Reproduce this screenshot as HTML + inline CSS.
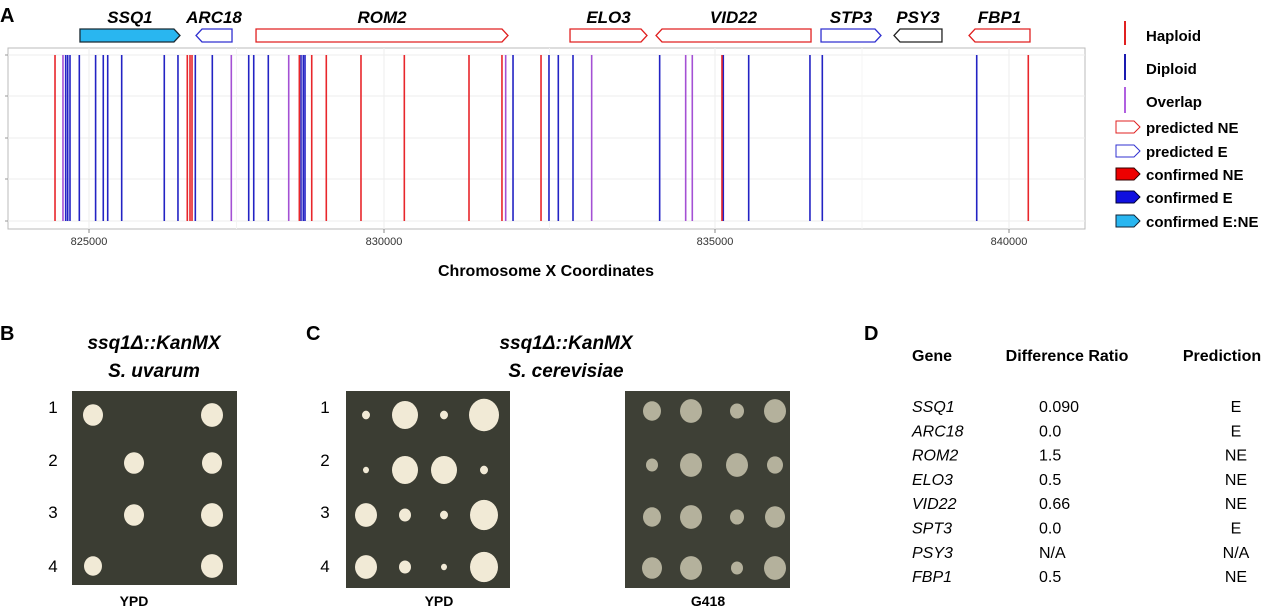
<!DOCTYPE html>
<html><head><meta charset="utf-8"><style>
body{margin:0;background:#fff;width:1280px;height:609px;overflow:hidden;font-family:"Liberation Sans",sans-serif}
svg{display:block}
text{font-family:"Liberation Sans",sans-serif}
</style></head><body>
<svg id="fig" width="1280" height="609" viewBox="0 0 1280 609">
<text x="0" y="22" font-size="20" font-weight="bold">A</text>
<rect x="8" y="48" width="1077" height="181" fill="#fff" stroke="#bbb" stroke-width="1"/>
<g id="grid"></g>
<g id="marks"></g>
<g id="genes"></g>
<g id="xaxis"></g>
<text x="546" y="276" font-size="16" font-weight="bold" text-anchor="middle">Chromosome X Coordinates</text>
<g id="legend">
 <line x1="1125" y1="21" x2="1125" y2="45" stroke="#e02020" stroke-width="2"/>
 <text x="1146" y="41" font-size="15" font-weight="bold">Haploid</text>
 <line x1="1125" y1="54" x2="1125" y2="80" stroke="#1a1ab0" stroke-width="2"/>
 <text x="1146" y="74" font-size="15" font-weight="bold">Diploid</text>
 <line x1="1125" y1="87" x2="1125" y2="113" stroke="#b060e0" stroke-width="2"/>
 <text x="1146" y="107" font-size="15" font-weight="bold">Overlap</text>
 <path d="M1116,121 H1134 L1140,127 L1134,133 H1116 Z" fill="#fff" stroke="#e02020"/>
 <text x="1146" y="133" font-size="15" font-weight="bold">predicted NE</text>
 <path d="M1116,145 H1134 L1140,151 L1134,157 H1116 Z" fill="#fff" stroke="#3030d0"/>
 <text x="1146" y="157" font-size="15" font-weight="bold">predicted E</text>
 <path d="M1116,168 H1134 L1140,174 L1134,180 H1116 Z" fill="#ee0000" stroke="#300"/>
 <text x="1146" y="180" font-size="15" font-weight="bold">confirmed NE</text>
 <path d="M1116,191 H1134 L1140,197 L1134,203 H1116 Z" fill="#1010e0" stroke="#003"/>
 <text x="1146" y="203" font-size="15" font-weight="bold">confirmed E</text>
 <path d="M1116,215 H1134 L1140,221 L1134,227 H1116 Z" fill="#29b6f0" stroke="#123"/>
 <text x="1146" y="227" font-size="15" font-weight="bold">confirmed E:NE</text>
</g>

<!-- Panel B -->
<text x="0" y="340" font-size="20" font-weight="bold">B</text>
<text x="154" y="349" font-size="19" font-weight="bold" font-style="italic" text-anchor="middle">ssq1Δ::KanMX</text>
<text x="154" y="377" font-size="19" font-weight="bold" font-style="italic" text-anchor="middle">S. uvarum</text>
<rect x="72" y="391" width="165" height="194" fill="#3b3d33"/>
<g id="platesB"></g>
<text x="134" y="606" font-size="14" font-weight="bold" text-anchor="middle">YPD</text>

<!-- Panel C -->
<text x="306" y="340" font-size="20" font-weight="bold">C</text>
<text x="566" y="349" font-size="19" font-weight="bold" font-style="italic" text-anchor="middle">ssq1Δ::KanMX</text>
<text x="566" y="377" font-size="19" font-weight="bold" font-style="italic" text-anchor="middle">S. cerevisiae</text>
<rect x="346" y="391" width="164" height="197" fill="#3b3d33"/>
<rect x="625" y="391" width="165" height="197" fill="#3e4036"/>
<g id="platesC"></g>
<text x="439" y="606" font-size="14" font-weight="bold" text-anchor="middle">YPD</text>
<text x="708" y="606" font-size="14" font-weight="bold" text-anchor="middle">G418</text>

<!-- Panel D -->
<text x="864" y="340" font-size="20" font-weight="bold">D</text>
<g id="table" font-size="16">
 <text x="912" y="361" font-weight="bold">Gene</text>
 <text x="1067" y="361" font-weight="bold" text-anchor="middle">Difference Ratio</text>
 <text x="1222" y="361" font-weight="bold" text-anchor="middle">Prediction</text>
</g>
</svg>
<script>
const NS='http://www.w3.org/2000/svg';
// ---- chart data ----
const tickValues=[825000,830000,835000,840000];
const tickLabels=['825000','830000','835000','840000'];
const hapPos=[824424,826666,826712,826746,828565,828775,829022,829610,830307,831284,831782,832372,835119,840328];
const dipPos=[824605,824639,824678,824836,825112,825242,825317,825554,826276,826508,826802,827090,827707,827792,828039,828593,828632,828661,831949,832492,832633,832855,834164,835141,835573,836615,836825,839451];
const ovlPos=[824559,827412,828385,831838,833137,834557,834657];
const geneNames=['SSQ1','ARC18','ROM2','ELO3','VID22','STP3','PSY3','FBP1'];
const geneStart=[824847,826814,827831,832810,834109,836803,838044,839320];
const geneEnd=[826542,827424,831873,833973,836633,837823,838860,840357];
const geneStrand=[1,-1,1,1,-1,1,-1,-1];
const geneStatus=['confirmed E:NE','predicted E','predicted NE','predicted NE','predicted NE','predicted E','unknown','predicted NE'];
const tblGenes=['SSQ1','ARC18','ROM2','ELO3','VID22','SPT3','PSY3','FBP1'];
const tblRatio=['0.090','0.0','1.5','0.5','0.66','0.0','N/A','0.5'];
const tblPred=['E','E','NE','NE','NE','E','N/A','NE'];
const bRadii=[[10,0,0,11],[0,10,0,10],[0,10,0,11],[9,0,0,11]];
const cRadii=[[4,13,4,15],[3,13,13,4],[11,6,4,14],[11,6,3,14]];
const gRadii=[[9,11,7,11],[6,11,11,8],[9,11,7,10],[10,11,6,11]];

const tickPx=[89,384,715,1009];
function xScale(v){
  let i=0; if(v>tickValues[2]) i=2; else if(v>tickValues[1]) i=1;
  return tickPx[i]+(v-tickValues[i])*(tickPx[i+1]-tickPx[i])/(tickValues[i+1]-tickValues[i]);
}
function mk(tag,attrs,parent){const e=document.createElementNS(NS,tag);for(const k in attrs)e.setAttribute(k,attrs[k]);parent.appendChild(e);return e;}
const grid=document.getElementById('grid');
[55,96,138,179,221].forEach(y=>{const l=mk('line',{x1:8,x2:1085,y1:y,y2:y,stroke:'#eee'},grid);


const t=mk('line',{x1:5,x2:8,y1:y,y2:y,stroke:'#999'},grid);

});
const xa=document.getElementById('xaxis');
tickValues.forEach((v,i)=>{const x=xScale(v);
 const g=mk('line',{x1:x,x2:x,y1:48,y2:229,stroke:'#eee'},grid);
 
 
 if(i<3){const mx=xScale((v+tickValues[i+1])/2);const m=mk('line',{x1:mx,x2:mx,y1:48,y2:229,stroke:'#f4f4f4'},grid);
 
 }
 const t=mk('line',{x1:x,x2:x,y1:229,y2:233,stroke:'#888'},xa);
 
 
 const tx=mk('text',{x:x,y:245,'font-size':11,'text-anchor':'middle',fill:'#333'},xa);
 tx.textContent=tickLabels[i];
 
 
});
const marks=document.getElementById('marks');
function drawLines(arr,color,name){arr.forEach(v=>{const x=xScale(v);
 const l=mk('line',{x1:x,x2:x,y1:55,y2:221,stroke:color,'stroke-width':1.6},marks);
 
 });}
drawLines(dipPos,'#2323c4','diploid-line');
drawLines(hapPos,'#e8262b','haploid-line');
drawLines(ovlPos,'#a450d4','overlap-line');
const gg=document.getElementById('genes');
const statusStyle={'confirmed E:NE':['#29b6f0','#1a2a33'],'predicted E':['#fff','#3030d0'],'predicted NE':['#fff','#e02020'],'unknown':['#fff','#222']};
geneNames.forEach((n,i)=>{const x0=xScale(geneStart[i]),x1=xScale(geneEnd[i]);const y0=29,y1=42,ym=35.5,h=6;
 let d; if(geneStrand[i]>0) d=`M${x0},${y0} H${x1-h} L${x1},${ym} L${x1-h},${y1} H${x0} Z`;
 else d=`M${x0+h},${y0} H${x1} V${y1} H${x0+h} L${x0},${ym} Z`;
 const st=statusStyle[geneStatus[i]];
 const p=mk('path',{d:d,fill:st[0],stroke:st[1],'stroke-width':1.3},gg);
 
 
 const t=mk('text',{x:(x0+x1)/2,y:23,'font-size':17,'font-weight':'bold','font-style':'italic','text-anchor':'middle'},gg);
 t.textContent=n;
 
 
});
function colonies(parent,radii,cols,rows,fuzzy,name){radii.forEach((row,r)=>row.forEach((rad,c)=>{if(!rad)return;
 const e=mk('ellipse',{cx:cols[c],cy:rows[r],rx:rad,ry:rad*1.08,fill:fuzzy?'#c9c6ae':'#f1ead6',opacity:fuzzy?0.85:1},parent);
 
 }));}
const pB=document.getElementById('platesB'),pC=document.getElementById('platesC');
colonies(pB,bRadii,[93,134,175,212],[415,463,515,566],false,'colony-b');
colonies(pC,cRadii,[366,405,444,484],[415,470,515,567],false,'colony-c-ypd');
colonies(pC,gRadii,[652,691,737,775],[411,465,517,568],true,'colony-c-g418');
[[53,407,'1'],[53,460,'2'],[53,512,'3'],[53,566,'4'],[325,407,'1'],[325,460,'2'],[325,512,'3'],[325,566,'4']].forEach(a=>{
 const t=mk('text',{x:a[0],y:a[1]+6,'font-size':17,'text-anchor':'middle'},pC);t.textContent=a[2];
 
 });
const tb=document.getElementById('table');
tblGenes.forEach((g,i)=>{const y=412+i*24.3;
 const a=mk('text',{x:912,y:y,'font-style':'italic'},tb);a.textContent=g;
 
 
 const b=mk('text',{x:1039,y:y},tb);b.textContent=tblRatio[i];
 
 
 const c=mk('text',{x:1236,y:y,'text-anchor':'middle'},tb);c.textContent=tblPred[i];
 
 
});
</script>
</body></html>
